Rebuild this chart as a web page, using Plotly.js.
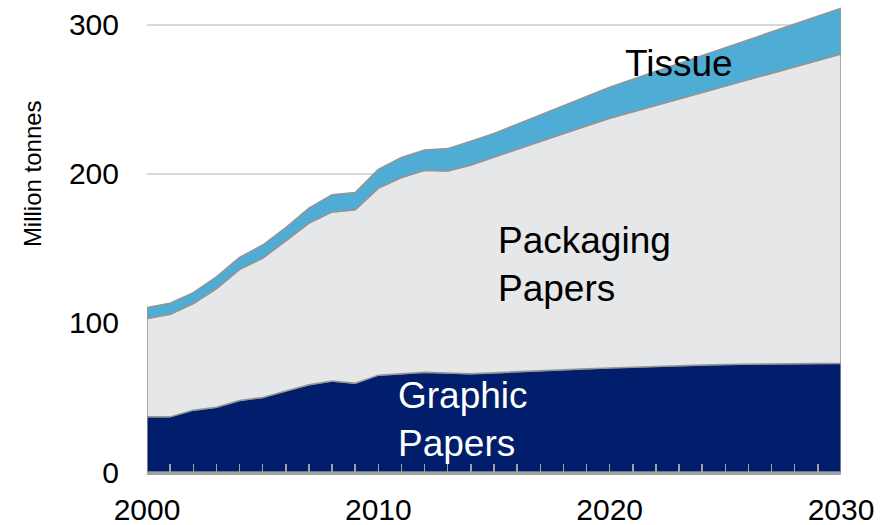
<!DOCTYPE html>
<html>
<head>
<meta charset="utf-8">
<script src="https://cdn.plot.ly/plotly-3.0.1.min.js"></script>
<style>html,body{margin:0;padding:0;background:#fff;}#chart{width:881px;height:525px;}</style>
</head>
<body>
<div id="chart"></div>
<script>
const years = [2000,2001,2002,2003,2004,2005,2006,2007,2008,2009,2010,2011,2012,2013,2014,2015,2016,2017,2018,2019,2020,2021,2022,2023,2024,2025,2026,2027,2028,2029,2030];
const graphicPapers = [37,37,41.5,43.5,48,50,54.5,58.5,61,59.5,65,66,67,66.5,66,66.5,67.3,68,68.6,69.3,70,70.5,71,71.4,71.8,72.1,72.4,72.6,72.8,72.9,73];
const packagingPapers = [66,68.8,71.5,79.5,88,93.5,100.5,108.5,113.5,116.5,125.5,131.5,135.5,135.5,140,145,149.4,153.9,158.5,163,167.4,171.2,175,178.9,182.8,186.8,190.8,195,199.1,203.3,207.5];
const tissue = [7.3,7.4,7.4,8,8,8.8,9,10,11.5,11.5,12.5,13.5,13.5,15,16,15.7,16.7,17.8,18.7,19.7,20.8,21.8,22.8,23.8,24.8,25.8,26.8,27.7,28.7,29.7,30.7];
const seriesNames = ["Graphic Papers","Packaging Papers","Tissue"];
const yTickVals = [0,100,200,300];
const xTickVals = [2000,2010,2020,2030];
const yAxisTitle = "Million tonnes";

const colors = ["#001E6C","#E6E7E9","#4FADD5"];
const outline = "#959595";
const font = "Liberation Sans, Arial, sans-serif";

const series = [graphicPapers, packagingPapers, tissue];
let base = years.map(() => 0);
const traces = [];
series.forEach((vals, k) => {
  const top = base.map((b, i) => b + vals[i]);
  const xs = years.concat(years.slice().reverse());
  const ys = top.concat(base.slice().reverse());
  xs.push(xs[0]); ys.push(ys[0]);
  traces.push({
    x: xs, y: ys, type: "scatter", mode: "lines", fill: "toself",
    fillcolor: colors[k], line: {color: outline, width: 1.5},
    name: seriesNames[k], hoverinfo: "skip", showlegend: false
  });
  base = top;
});

const layout = {
  width: 881, height: 525,
  margin: {l: 147, r: 40, t: 7, b: 53},
  paper_bgcolor: "#ffffff", plot_bgcolor: "#ffffff",
  font: {family: font, color: "#000"},
  showlegend: false,
  xaxis: {
    range: [2000, 2030], tickmode: "array", tickvals: xTickVals,
    ticktext: xTickVals.map(String),
    ticks: "inside", ticklen: 8, tickwidth: 1.5, tickcolor: "#a0a0a0",
    minor: {dtick: 1, ticks: "inside", ticklen: 8, tickwidth: 1.5, tickcolor: "#a0a0a0"},
    showline: true, linecolor: "#a0a0a0", linewidth: 2.5,
    showgrid: false, zeroline: false,
    tickfont: {size: 30, family: font, color: "#000"},
    ticklabelstandoff: 9, fixedrange: true
  },
  yaxis: {
    range: [0, 312], tickmode: "array", tickvals: yTickVals,
    ticks: "", showline: false, zeroline: false,
    showgrid: true, gridcolor: "#d9d9d9", gridwidth: 1.5,
    tickfont: {size: 30, family: font, color: "#000"},
    ticklabelstandoff: 27, fixedrange: true
  },
  annotations: [
    {xref: "paper", yref: "paper", x: -0.164, y: 0.641, text: yAxisTitle, textangle: -90,
     showarrow: false, font: {size: 24, family: font, color: "#000"}, xanchor: "center", yanchor: "middle"},
    {xref: "x", yref: "y", x: 2023.0, y: 274, text: "Tissue", showarrow: false,
     font: {size: 37, family: font, color: "#000"}, xanchor: "center", yanchor: "middle"},
    {xref: "x", yref: "y", x: 2015.1, y: 139, text: "Packaging<br>Papers", showarrow: false, align: "left",
     font: {size: 37, family: font, color: "#000"}, xanchor: "left", yanchor: "middle"},
    {xref: "x", yref: "y", x: 2010.75, y: 35, text: "Graphic<br>Papers", showarrow: false, align: "left",
     font: {size: 37, family: font, color: "#ffffff"}, xanchor: "left", yanchor: "middle"}
  ]
};

Plotly.newPlot("chart", traces, layout, {displayModeBar: false, staticPlot: true});
</script>
</body>
</html>
